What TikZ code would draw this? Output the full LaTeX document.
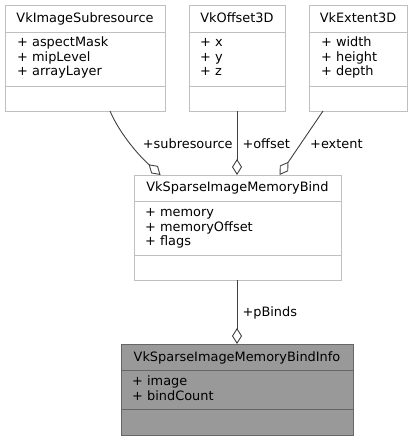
\documentclass[tikz,border=0pt]{standalone}
\usepackage{fontspec}
\setmainfont{DejaVu Sans}
\usetikzlibrary{arrows.meta}
\definecolor{lborder}{HTML}{BFBFBF}
\definecolor{dborder}{HTML}{666666}
\definecolor{dfill}{HTML}{999999}
\definecolor{edgec}{HTML}{404040}
\begin{document}
\begin{tikzpicture}[x=1pt,y=-1pt,
  lbox/.style={draw=lborder,fill=white,line width=0.9pt,inner sep=0pt,outer sep=0pt},
  dbox/.style={draw=dborder,fill=dfill,line width=0.9pt,inner sep=0pt,outer sep=0pt},
  ttl/.style={anchor=base,inner sep=0pt,font=\fontsize{12.9}{14.5}\selectfont},
  attr/.style={anchor=base west,inner sep=0pt,font=\fontsize{12.9}{14.5}\selectfont},
  lbl/.style={anchor=base west,inner sep=0pt,font=\fontsize{12.9}{14.5}\selectfont},
  agg/.style={draw=edgec,line width=0.9pt,-{Diamond[open,length=16pt,width=10pt,fill=white,line width=0.9pt]}}]
\useasboundingbox (0,0) rectangle (413,441);
% VkImageSubresource
\node[lbox,minimum width=160pt,minimum height=106pt] (sub) at (85,58) {};
\draw[lborder,line width=0.9pt] (5,32) -- (165,32) (5,86) -- (165,86);
\node[ttl] (subT) at (85,22.3) {VkImageSubresource};
\node[attr] (subA1) at (17,47) {+ aspectMask};
\node[attr] (subA2) at (17,61.5) {+ mipLevel};
\node[attr] (subA3) at (17,76) {+ arrayLayer};
% VkOffset3D
\node[lbox,minimum width=96pt,minimum height=106pt] (off) at (237,58) {};
\draw[lborder,line width=0.9pt] (189,32) -- (285,32) (189,86) -- (285,86);
\node[ttl] (offT) at (237,22.3) {VkOffset3D};
\node[attr] (offA1) at (200,47) {+ x};
\node[attr] (offA2) at (200,61.5) {+ y};
\node[attr] (offA3) at (200,76) {+ z};
% VkExtent3D
\node[lbox,minimum width=98pt,minimum height=106pt] (ext) at (358,58) {};
\draw[lborder,line width=0.9pt] (309,32) -- (407,32) (309,86) -- (407,86);
\node[ttl] (extT) at (358,22.3) {VkExtent3D};
\node[attr] (extA1) at (321,47) {+ width};
\node[attr] (extA2) at (321,61.5) {+ height};
\node[attr] (extA3) at (321,76) {+ depth};
% VkSparseImageMemoryBind
\node[lbox,minimum width=207pt,minimum height=105pt] (bind) at (237.5,227.5) {};
\draw[lborder,line width=0.9pt] (134,201) -- (341,201) (134,255) -- (341,255);
\node[ttl] (bindT) at (237.5,191) {VkSparseImageMemoryBind};
\node[attr] (bindA1) at (145,216.5) {+ memory};
\node[attr] (bindA2) at (145,231) {+ memoryOffset};
\node[attr] (bindA3) at (145,245.5) {+ flags};
% VkSparseImageMemoryBindInfo
\node[dbox,minimum width=232pt,minimum height=91pt] (info) at (237,389.5) {};
\draw[dborder,line width=0.9pt] (121,370) -- (353,370) (121,409) -- (353,409);
\node[ttl] (infoT) at (237,361) {VkSparseImageMemoryBindInfo};
\node[attr] (infoA1) at (132,385.7) {+ image};
\node[attr] (infoA2) at (132,400.5) {+ bindCount};
% edges
\draw[agg] ([xshift=25pt]sub.south) .. controls (118,130) and (135,152) .. ([xshift=-77pt]bind.north);
\draw[agg] (off.south) -- (bind.north -| off.south);
\draw[agg] ([xshift=-35pt]ext.south) -- ([xshift=42pt]bind.north);
\draw[agg] (bind.south -| info.north) -- (info.north);
\node[lbl] (l1) at (142.7,148) {+subresource};
\node[lbl] (l2) at (242.3,148) {+offset};
\node[lbl] (l3) at (310,148) {+extent};
\node[lbl] (l4) at (242.3,316) {+pBinds};
\end{tikzpicture}
\end{document}
